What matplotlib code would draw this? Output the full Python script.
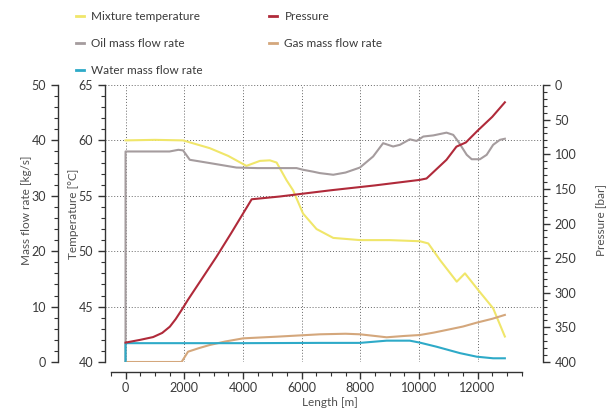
import matplotlib
matplotlib.use("Agg")
import matplotlib.pyplot as plt
from matplotlib.ticker import FixedLocator, MultipleLocator
from matplotlib.lines import Line2D

plt.rcParams['font.family'] = ['Lato', 'DejaVu Sans']

# ---- data ----
length_temp = [0, 1000, 1960, 2870, 3500, 4120, 4580, 4920, 5150, 5490, 5710, 6050, 6510, 7080,
               8000, 9000, 10030, 10320, 10720, 11290, 11570, 12020, 12530, 12930]
temperature = [60.0, 60.05, 60.0, 59.3, 58.6, 57.7, 58.15, 58.2, 58.0, 56.4, 55.5, 53.4, 52.0, 51.2,
               51.0, 51.0, 50.9, 50.7, 49.2, 47.25, 48.0, 46.5, 44.85, 42.3]

length_p = [0, 500, 940, 1250, 1510, 1710, 1910, 2130, 2600, 3100, 3600, 4000, 4300, 5260,
            7000, 8500, 10030, 10260, 10940, 11280, 11600, 12000, 12500, 12930]
pressure = [372, 368, 364, 358, 349, 338, 325, 310, 280, 248, 214, 186, 165, 161,
            152, 145, 137, 135, 108, 89, 83, 66, 46, 25]

length_oil = [0, 0, 1500, 1800, 1960, 2190, 2880, 3780, 4500, 5260, 5830, 6050, 6400, 6620, 7080,
              7500, 7990, 8440, 8780, 9120, 9350, 9690, 9920, 10150, 10490, 10940, 11170, 11340,
              11630, 11800, 12080, 12310, 12530, 12760, 12930]
oil = [0, 38.0, 38.0, 38.3, 38.2, 36.5, 35.9, 35.1, 35.0, 35.0, 35.0, 34.7, 34.35, 34.1, 33.8,
       34.2, 35.1, 37.1, 39.5, 38.9, 39.2, 40.2, 39.9, 40.7, 40.9, 41.4, 41.0, 39.8,
       37.4, 36.6, 36.6, 37.4, 39.2, 40.1, 40.3]

length_gas = [0, 1910, 2130, 2500, 2870, 3400, 4010, 5150, 6630, 7500, 7990, 8500, 8900, 9500,
              10030, 10500, 10940, 11500, 11970, 12500, 12930]
gas = [0, 0, 1.86, 2.5, 3.07, 3.7, 4.27, 4.57, 5.0, 5.1, 5.0, 4.7, 4.46, 4.7,
       4.87, 5.3, 5.78, 6.4, 7.1, 7.8, 8.5]

length_water = [0, 0, 2000, 4000, 6630, 7990, 8330, 8900, 9690, 10030, 10600, 11400, 11970, 12530, 12930]
water = [0, 3.4, 3.4, 3.4, 3.45, 3.45, 3.6, 3.85, 3.85, 3.5, 2.76, 1.6, 0.96, 0.67, 0.67]

labels = ["Mixture temperature", "Oil mass flow rate", "Water mass flow rate",
          "Pressure", "Gas mass flow rate"]

# ---- styles ----
c_temp = '#f0e66a'
c_press = '#b02a3a'
c_oil = '#a59c9e'
c_gas = '#d4a77c'
c_water = '#2eaac8'
txt = '#3a3a3a'
spc = '#333333'
lw = 1.5

fig = plt.figure(figsize=(6.13, 4.12), dpi=100)
L, R, B, T = 105/613, 543/613, 1-362/412, 1-85/412
ax = fig.add_axes([L, B, R-L, T-B])
ax_m = ax.twinx()
ax_p = ax.twinx()

ax.set_xlim(-700, 14230)
ax.set_ylim(40, 65)
ax_m.set_ylim(0, 50)
ax_p.set_ylim(400, 0)

ax.plot(length_temp, temperature, color=c_temp, lw=lw, zorder=3)
ax_p.plot(length_p, pressure, color=c_press, lw=lw)
ax_m.plot(length_oil, oil, color=c_oil, lw=lw)
ax_m.plot(length_gas, gas, color=c_gas, lw=lw)
ax_m.plot(length_water, water, color=c_water, lw=lw)

# spines
for a in (ax, ax_m, ax_p):
    for s in a.spines.values():
        s.set_visible(False)
        s.set_color(spc)
        s.set_linewidth(1.0)

ax.spines['left'].set_visible(True)
ax.spines['left'].set_bounds(40, 65)
ax.spines['bottom'].set_visible(True)
ax.spines['bottom'].set_position(('outward', 7.2))
ax.spines['bottom'].set_bounds(-500, 13500)

ax_m.spines['left'].set_visible(True)
ax_m.spines['left'].set_position(('outward', 34))
ax_m.spines['left'].set_bounds(0, 50)
ax_m.yaxis.set_ticks_position('left')
ax_m.yaxis.set_label_position('left')

ax_p.spines['right'].set_visible(True)
ax_p.spines['right'].set_bounds(0, 400)

# ticks
ax.xaxis.set_major_locator(FixedLocator(list(range(0, 12001, 2000))))
ax.xaxis.set_minor_locator(FixedLocator([v for v in range(-500, 13501, 500) if v % 2000 != 0 or v > 12000 or v < 0]))
ax.yaxis.set_major_locator(MultipleLocator(5))
ax.yaxis.set_minor_locator(MultipleLocator(1))
ax_m.yaxis.set_major_locator(MultipleLocator(10))
ax_m.yaxis.set_minor_locator(MultipleLocator(2))
ax_p.yaxis.set_major_locator(MultipleLocator(50))
ax_p.yaxis.set_minor_locator(MultipleLocator(10))

for a in (ax, ax_m, ax_p):
    a.tick_params(which='major', direction='out', length=5, width=1.0, color=spc,
                  labelsize=9, labelcolor=txt)
    a.tick_params(which='minor', direction='out', length=3, width=0.8, color=spc)
ax_m.tick_params(axis='x', which='both', bottom=False, labelbottom=False)
ax_p.tick_params(axis='x', which='both', bottom=False, labelbottom=False)
ax.tick_params(axis='x', which='major', pad=2.5)

ax.grid(True, which='major', linestyle=(0, (1, 2)), color='#666666', linewidth=0.7)

ax.set_xlabel("Length [m]", fontsize=8.5, color='#505050')
ax.set_ylabel("Temperature [°C]", fontsize=8.5, color='#505050')
ax_m.set_ylabel("Mass flow rate [kg/s]", fontsize=8.5, color='#505050')
ax_p.set_ylabel("Pressure [bar]", fontsize=8.5, color='#505050')
ax.xaxis.set_label_coords((330-105)/(543-105), -(397-362)/(362-85))
ax.yaxis.set_label_coords(-(105-79)/(543-105), (362-214)/(362-85))
ax_m.yaxis.set_label_coords(-(105-32)/(543-105), (362-210)/(362-85))
ax_p.yaxis.set_label_coords((595-105)/(543-105), (362-220)/(362-85))

handles = [Line2D([], [], color=c, lw=2) for c in (c_temp, c_oil, c_water, c_press, c_gas)]
fig.legend(handles, labels, ncol=2, loc='upper left', bbox_to_anchor=(76/613, 1-11/412),
           frameon=False, fontsize=8.5, labelcolor=txt, handlelength=0.7, handletextpad=0.6,
           labelspacing=1.35, columnspacing=5.6, borderpad=0, borderaxespad=0)

fig.savefig("out.png", dpi=100)
